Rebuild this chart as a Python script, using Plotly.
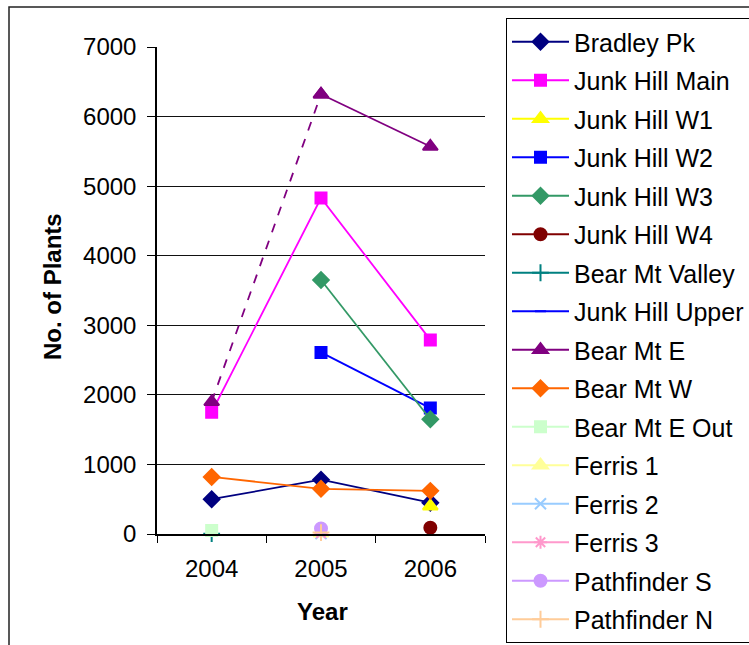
import plotly.graph_objects as go

years = ["2004", "2005", "2006"]

names = ["Bradley Pk", "Junk Hill Main", "Junk Hill W1", "Junk Hill W2", "Junk Hill W3",
         "Junk Hill W4", "Bear Mt Valley", "Junk Hill Upper", "Bear Mt E", "Bear Mt W",
         "Bear Mt E Out", "Ferris 1", "Ferris 2", "Ferris 3", "Pathfinder S", "Pathfinder N"]

bradley_pk = [500, 780, 450]
junk_hill_main = [1750, 4830, 2790]
junk_hill_w1 = [None, None, 400]
junk_hill_w2 = [None, 2610, 1810]
junk_hill_w3 = [None, 3650, 1650]
junk_hill_w4 = [None, None, 90]
bear_mt_valley = [5, None, None]
junk_hill_upper = [None, 60, None]
bear_mt_e = [1900, 6320, 5570]
bear_mt_w = [820, 650, 620]
bear_mt_e_out = [50, None, None]
ferris_1 = [None, 10, None]
ferris_2 = [None, 5, None]
ferris_3 = [None, 10, None]
pathfinder_s = [None, 80, None]
pathfinder_n = [None, 20, None]

series = [bradley_pk, junk_hill_main, junk_hill_w1, junk_hill_w2, junk_hill_w3,
          junk_hill_w4, bear_mt_valley, junk_hill_upper, bear_mt_e, bear_mt_w,
          bear_mt_e_out, ferris_1, ferris_2, ferris_3, pathfinder_s, pathfinder_n]

colors = ["#000080", "#FF00FF", "#FFFF00", "#0000FF", "#339966",
          "#800000", "#008080", "#0000FF", "#800080", "#FF6600",
          "#CCFFCC", "#FFFF99", "#99CCFF", "#FF99CC", "#CC99FF", "#FFCC99"]

symbols = ["diamond", "square", "triangle-up", "square", "diamond",
           "circle", "cross-thin", "line-ew", "triangle-up", "diamond",
           "square", "triangle-up", "x-thin", "asterisk", "circle", "cross-thin"]

sizes = [12, 11, 13, 11, 12, 12, 12, 8, 13, 12, 11, 13, 11, 11, 12, 12]

FONT = "Liberation Sans, Arial, sans-serif"

# pixel helpers (figure 749x645, fixed margins)
L, R, T, B = 157, 264, 0, 0
PW = 749 - L - R
PH = 645 - T - B


def px(x):
    return (x - L) / PW


def py(y):
    return (645 - B - y) / PH


fig = go.Figure()

for name, vals, col, sym, sz in zip(names, series, colors, symbols, sizes):
    mk = dict(symbol=sym, size=sz, color=col, line=dict(color=col, width=2))
    if name == "Bear Mt E":
        fig.add_trace(go.Scatter(
            x=years[:2], y=vals[:2], mode="lines+markers",
            line=dict(color=col, width=1.8, dash="dash"), marker=mk,
            showlegend=False, legendgroup=name, hoverinfo="skip"))
        fig.add_trace(go.Scatter(
            x=years[1:], y=vals[1:], mode="lines+markers", name=name,
            line=dict(color=col, width=1.8), marker=mk, legendgroup=name))
    else:
        fig.add_trace(go.Scatter(
            x=years, y=vals, mode="lines+markers", name=name,
            line=dict(color=col, width=1.8), marker=mk,
            connectgaps=False, legendgroup=name, cliponaxis=False))

fig.update_layout(
    width=749, height=645, autosize=False,
    margin=dict(l=L, r=R, t=T, b=B, autoexpand=False),
    paper_bgcolor="white", plot_bgcolor="white",
    font=dict(family=FONT, size=24, color="black"),
    showlegend=True,
    legend=dict(
        x=px(506), y=py(18), xanchor="left", yanchor="top",
        bordercolor="black", borderwidth=1, bgcolor="white",
        font=dict(family=FONT, size=25, color="black"),
        tracegroupgap=3, itemwidth=57, traceorder="grouped",
    ),
    xaxis=dict(
        type="category", categoryorder="array", categoryarray=years,
        range=[-0.5, 2.5],
        showline=True, linecolor="black", linewidth=1.5,
        ticks="outside", tickson="boundaries", ticklen=7, tickcolor="black",
        showgrid=False, zeroline=False, ticklabelstandoff=12,
        tickfont=dict(size=24),
    ),
    yaxis=dict(
        domain=[py(534), py(47)],
        range=[0, 7000], tickvals=[0, 1000, 2000, 3000, 4000, 5000, 6000, 7000],
        showline=True, linecolor="black", linewidth=1.5,
        ticks="outside", ticklen=8, tickcolor="black",
        showgrid=True, gridcolor="#111111", gridwidth=1, zeroline=False,
        ticklabelstandoff=6, tickfont=dict(size=24),
    ),
    annotations=[
        dict(text="<b>No. of Plants</b>", xref="paper", yref="paper",
             x=px(52), y=py(287), textangle=-90,
             showarrow=False, font=dict(size=24), xanchor="center", yanchor="middle"),
        dict(text="<b>Year</b>", xref="paper", yref="paper",
             x=px(322), y=py(611),
             showarrow=False, font=dict(size=24), xanchor="center", yanchor="middle"),
    ],
    shapes=[
        dict(type="rect", xref="paper", yref="paper",
             x0=px(9), x1=px(760), y0=py(660), y1=py(7),
             line=dict(color="#222222", width=1.5), layer="below"),
    ],
)

fig.write_html("out.html")
